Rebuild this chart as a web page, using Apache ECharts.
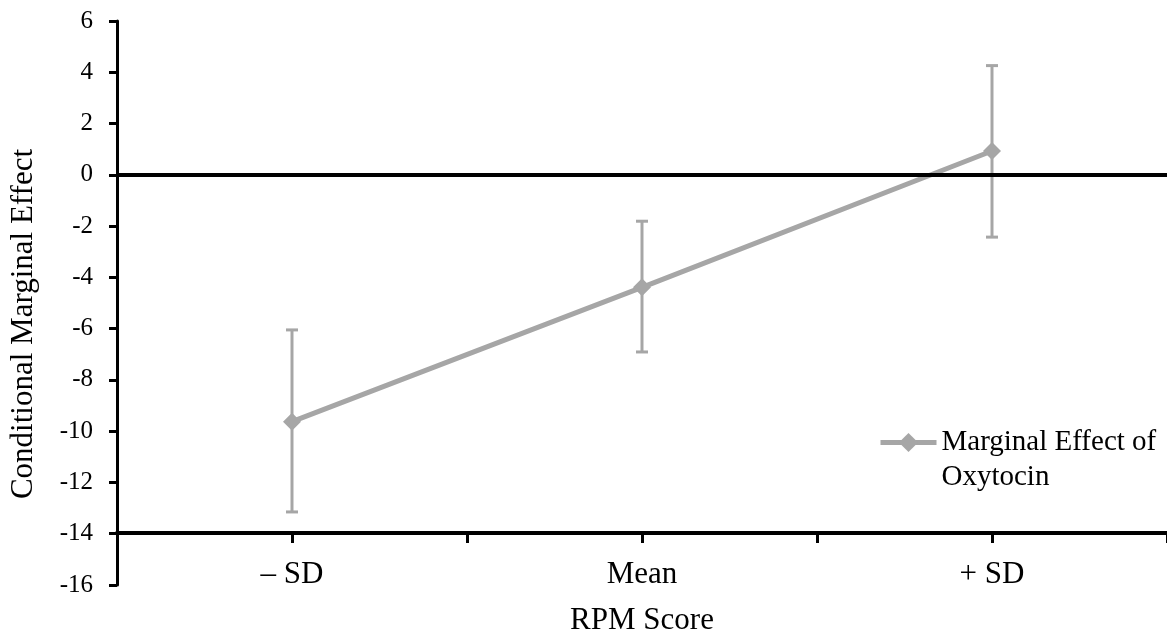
<!DOCTYPE html>
<html>
<head>
<meta charset="utf-8">
<script src="https://cdn.jsdelivr.net/npm/echarts@6/dist/echarts.min.js"></script>
<style>
  html,body{margin:0;padding:0;background:#fff;}
  #chart{width:1167px;height:633px;}
</style>
</head>
<body>
<div id="chart"></div>
<script>
// data
var categories = ['\u2013 SD', 'Mean', '+ SD']
var effect = [-9.63, -4.39, 0.93]
var ciLow = [-13.15, -6.91, -2.43]
var ciHigh = [-6.05, -1.81, 4.26]
var yTicks = { min: -16, max: 6, step: 2 }

var font = 'Liberation Serif, Times New Roman, serif'
var grey = '#a6a6a6'

// categories sit at the middle of each unit slot on a 0..3 value axis
var pos = categories.map(function (c, i) { return i + 0.5 })
var lineData = pos.map(function (x, i) { return [x, effect[i]] })
var errData = pos.map(function (x, i) { return [x, ciLow[i], ciHigh[i]] })

var chart = echarts.init(document.getElementById('chart'))
var option = {
  animation: false,
  textStyle: { fontFamily: font },
  grid: { left: 117, right: 0, top: 21, bottom: 48, outerBoundsMode: 'none' },
  legend: {
    left: 873,
    top: 385,
    itemWidth: 56,
    itemHeight: 24,
    itemGap: 4,
    lineStyle: { width: 5 },
    data: ['Marginal Effect of\nOxytocin'],
    // blank first line keeps the icon level with the first text line
    formatter: function (name) { return ' \n' + name },
    textStyle: { fontFamily: font, fontSize: 29, color: '#000', lineHeight: 35 }
  },
  xAxis: {
    type: 'value',
    min: 0,
    max: 3,
    interval: 0.5,
    offset: -52,
    name: 'RPM Score',
    nameLocation: 'middle',
    nameGap: 72,
    nameTextStyle: { fontFamily: font, fontSize: 31, color: '#000' },
    splitLine: { show: false },
    axisLine: { onZero: false, lineStyle: { color: '#000', width: 4 } },
    axisTick: { length: 10, lineStyle: { color: '#000', width: 3 } },
    axisLabel: {
      margin: 26,
      fontFamily: font, fontSize: 31, color: '#000',
      formatter: function (v) {
        var i = pos.indexOf(v)
        return i >= 0 ? categories[i] : ''
      }
    }
  },
  yAxis: {
    type: 'value',
    min: yTicks.min,
    max: yTicks.max,
    interval: yTicks.step,
    name: 'Conditional Marginal Effect',
    nameLocation: 'middle',
    nameGap: 78,
    nameTextStyle: { fontFamily: font, fontSize: 31, color: '#000', padding: [0, 42, 0, 0] },
    splitLine: { show: false },
    axisLine: { show: true, lineStyle: { color: '#000', width: 3 } },
    axisTick: { show: true, length: 8, lineStyle: { color: '#000', width: 3 } },
    axisLabel: { margin: 24, fontFamily: font, fontSize: 25, color: '#000' }
  },
  series: [
    {
      type: 'custom',
      z: 2,
      silent: true,
      data: errData,
      renderItem: function (params, api) {
        var top = api.coord([api.value(0), api.value(2)])
        var bot = api.coord([api.value(0), api.value(1)])
        var cap = 6
        var st = { stroke: grey, lineWidth: 3 }
        return {
          type: 'group',
          children: [
            { type: 'line', shape: { x1: top[0], y1: top[1], x2: bot[0], y2: bot[1] }, style: st },
            { type: 'line', shape: { x1: top[0] - cap, y1: top[1], x2: top[0] + cap, y2: top[1] }, style: st },
            { type: 'line', shape: { x1: bot[0] - cap, y1: bot[1], x2: bot[0] + cap, y2: bot[1] }, style: st }
          ]
        }
      }
    },
    {
      name: 'Marginal Effect of\nOxytocin',
      type: 'line',
      z: 3,
      data: lineData,
      symbol: 'diamond',
      symbolSize: 18,
      color: grey,
      itemStyle: { color: grey },
      lineStyle: { color: grey, width: 5 }
    },
    {
      type: 'line',
      z: 5,
      data: [],
      markLine: {
        silent: true,
        symbol: 'none',
        label: { show: false },
        lineStyle: { color: '#000', width: 4, type: 'solid' },
        data: [{ yAxis: 0 }]
      }
    }
  ]
}
chart.setOption(option)
</script>
</body>
</html>
